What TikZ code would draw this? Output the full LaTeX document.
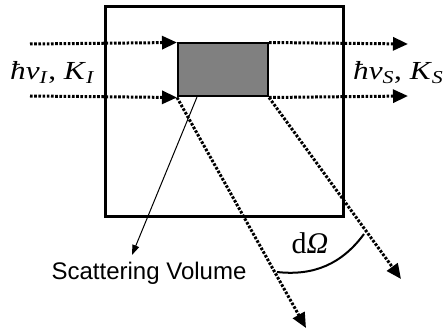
\documentclass[tikz,border=0pt]{standalone}
\usepackage{fontspec}
\setmainfont{Liberation Serif}
\newfontfamily\arialfont{Liberation Sans}
\usepackage{tikz}
\usetikzlibrary{arrows.meta, positioning, calc}

\newcommand{\beamlabel}[1]{\scalebox{1.2}[1]{\textit{ħν}\textsubscript{\textit{#1}}, \textit{K}\textsubscript{\textit{#1}}}}

\begin{document}
\begin{tikzpicture}[
  x=1pt, y=-1pt,
  beam/.style={line width=3pt, dash pattern=on 2.6pt off 1.6pt,
               -{Triangle[length=15pt, width=13pt]}},
  frame/.style={draw, line width=3pt, minimum width=238pt, minimum height=209pt,
                inner sep=0pt},
  vol/.style={draw, line width=2pt, fill=gray, minimum width=90pt,
              minimum height=53pt, inner sep=0pt},
  pointer/.style={line width=1pt, -{Triangle[length=10pt, width=7pt]}},
  lbl/.style={font=\fontsize{26}{30}\selectfont, inner sep=0pt},
]
  \useasboundingbox (0,0) rectangle (446,331);

  % sample and scattering volume
  \node[frame] (sample) at (224,111.5) {};
  \node[vol]   (volume) at (223,70) {};

  % incoming and outgoing beams
  \coordinate (inT)  at (30,44);
  \coordinate (inB)  at (30,96);
  \coordinate (outT) at (408,44);
  \coordinate (outB) at (408,96);
  \draw[beam] (inT) -- (volume.north west);
  \draw[beam] (inB) -- (volume.south west);
  \draw[beam] (volume.north east) -- (outT);
  \draw[beam] (volume.south east) -- (outB);

  % scattered beams
  \coordinate (scatL) at (306,328);
  \coordinate (scatR) at (401,279);
  \draw[beam] (volume.south west) -- (scatL);
  \draw[beam] (volume.south east) -- (scatR);

  % labels
  \node[lbl, anchor=base west] (kin)  at (10,80)  {\beamlabel{I}};
  \node[lbl, anchor=base west] (kout) at (353,80) {\beamlabel{S}};

  \node[font=\arialfont\fontsize{24}{28}\selectfont, inner sep=0pt, anchor=base]
    (scatvol) at (149,279) {Scattering Volume};
  \coordinate (volpt) at (197,97);
  \draw[pointer] (volpt) -- (132,255);

  % solid angle
  \coordinate (arcL) at (277,272);
  \coordinate (arcR) at (364,234);
  \draw[line width=2pt] (arcL) to[bend right=30] (arcR);
  \node[font=\fontsize{30}{34}\selectfont, inner sep=0pt, anchor=base]
    (domega) at (310,253) {d\textit{Ω}};
\end{tikzpicture}
\end{document}
